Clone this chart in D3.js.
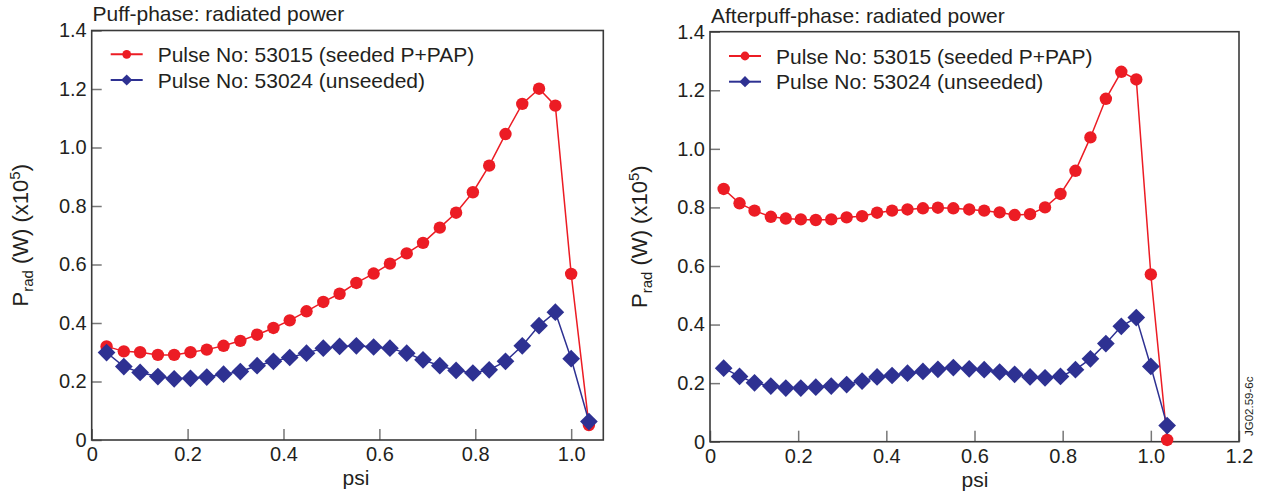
<!DOCTYPE html>
<html>
<head>
<meta charset="utf-8">
<script src="https://cdn.jsdelivr.net/npm/d3@7"></script>
<style>
  body { margin: 0; background: #fff; }
  svg { font-family: "Liberation Sans", Arial, Helvetica, sans-serif; }
</style>
</head>
<body>
<script>

// psi grid (same for both panels)
var psi = [0.031, 0.067, 0.101, 0.138, 0.172, 0.206, 0.240, 0.275, 0.310, 0.345,
           0.379, 0.413, 0.448, 0.483, 0.517, 0.552, 0.588, 0.622, 0.657, 0.691,
           0.726, 0.760, 0.795, 0.829, 0.863, 0.898, 0.933, 0.967, 1.000, 1.037];

// puff phase, Prad (x1e5 W)
var puffSeeded = [0.320, 0.303, 0.300, 0.291, 0.291, 0.300, 0.309, 0.322, 0.339, 0.360,
                  0.383, 0.409, 0.440, 0.472, 0.500, 0.537, 0.569, 0.603, 0.638, 0.674,
                  0.726, 0.777, 0.847, 0.938, 1.046, 1.149, 1.201, 1.143, 0.568, 0.051];
var puffUnseeded = [0.299, 0.251, 0.231, 0.217, 0.209, 0.211, 0.215, 0.225, 0.234, 0.254,
                    0.269, 0.282, 0.297, 0.314, 0.320, 0.322, 0.318, 0.314, 0.297, 0.274,
                    0.254, 0.238, 0.229, 0.240, 0.269, 0.322, 0.391, 0.437, 0.278, 0.063];

// afterpuff phase
var afterSeeded = [0.863, 0.814, 0.789, 0.768, 0.762, 0.759, 0.757, 0.759, 0.766, 0.770,
                   0.782, 0.789, 0.793, 0.797, 0.799, 0.797, 0.793, 0.789, 0.783, 0.774,
                   0.777, 0.800, 0.846, 0.925, 1.039, 1.171, 1.263, 1.237, 0.571, 0.006];
var afterUnseeded = [0.251, 0.223, 0.201, 0.190, 0.183, 0.183, 0.186, 0.190, 0.195, 0.207,
                     0.221, 0.226, 0.234, 0.240, 0.247, 0.253, 0.249, 0.246, 0.238, 0.230,
                     0.221, 0.218, 0.223, 0.246, 0.283, 0.335, 0.394, 0.424, 0.257, 0.055];

var titles = ['Puff-phase: radiated power', 'Afterpuff-phase: radiated power'];
var seriesNames = ['Pulse No: 53015 (seeded P+PAP)', 'Pulse No: 53024 (unseeded)'];
var yTicks = [0, 0.2, 0.4, 0.6, 0.8, 1.0, 1.2, 1.4];
var xTicksLeft = [0, 0.2, 0.4, 0.6, 0.8, 1.0];
var xTicksRight = [0, 0.2, 0.4, 0.6, 0.8, 1.0, 1.2];

// colors
var red = '#ec1c24';
var blue = '#2e3192';
var ink = '#231f20';

var svg = d3.select('body').append('svg')
            .attr('width', 1265)
            .attr('height', 495);

var fmt = function(d) { return d === 0 ? '0' : d3.format('.1f')(d); };

function drawPanel(p) {
  var xScale = d3.scaleLinear().domain([0, p.xMax]).range([p.left, p.right]);
  var yScale = d3.scaleLinear().domain([0, 1.4]).range([p.bottom, p.top]);
  var g = svg.append('g');

  // axes, ticks pointing inwards
  var xAxis = g.append('g')
      .attr('transform', 'translate(0,' + p.bottom + ')')
      .call(d3.axisBottom(xScale).tickValues(p.xTicks).tickFormat(fmt)
              .tickSizeInner(-11).tickSizeOuter(0).tickPadding(7));
  var yAxis = g.append('g')
      .attr('transform', 'translate(' + p.left + ',0)')
      .call(d3.axisLeft(yScale).tickValues(yTicks).tickFormat(fmt)
              .tickSizeInner(-10).tickSizeOuter(0).tickPadding(5));
  [xAxis, yAxis].forEach(function(a) {
    a.select('.domain').remove();
    a.selectAll('line').attr('stroke', '#777').attr('stroke-width', 1.5);
    a.selectAll('text').attr('fill', ink).style('font-size', '20px');
  });

  // frame
  g.append('rect')
   .attr('x', p.left).attr('y', p.top)
   .attr('width', p.right - p.left).attr('height', p.bottom - p.top)
   .attr('fill', 'none').attr('stroke', '#3a3a3a').attr('stroke-width', 1.6);

  var line = d3.line()
      .x(function(d, i) { return xScale(psi[i]); })
      .y(function(d) { return yScale(d); });

  // seeded (red circles)
  g.append('path').datum(p.seeded)
   .attr('d', line).attr('fill', 'none').attr('stroke', red).attr('stroke-width', 1.5);
  g.selectAll('.dot').data(p.seeded).enter().append('circle')
   .attr('class', 'dot')
   .attr('cx', function(d, i) { return xScale(psi[i]); })
   .attr('cy', function(d) { return yScale(d); })
   .attr('r', 6.2).attr('fill', red);

  // unseeded (blue diamonds)
  g.append('path').datum(p.unseeded)
   .attr('d', line).attr('fill', 'none').attr('stroke', blue).attr('stroke-width', 1.5);
  var diamond = d3.symbol().type(d3.symbolDiamond2).size(200);
  g.selectAll('.dia').data(p.unseeded).enter().append('path')
   .attr('class', 'dia')
   .attr('d', diamond)
   .attr('transform', function(d, i) {
     return 'translate(' + xScale(psi[i]) + ',' + yScale(d) + ')';
   })
   .attr('fill', blue);

  // title
  g.append('text')
   .attr('x', p.titleX).attr('y', p.titleY)
   .attr('fill', ink).style('font-size', '21px')
   .text(p.title);

  // legend
  var legendColors = [red, blue];
  seriesNames.forEach(function(name, i) {
    var ly = p.legendY[i];
    g.append('line')
     .attr('x1', p.legendX - 16).attr('x2', p.legendX + 16)
     .attr('y1', ly).attr('y2', ly)
     .attr('stroke', legendColors[i]).attr('stroke-width', 2);
    if (i === 0) {
      g.append('circle').attr('cx', p.legendX).attr('cy', ly).attr('r', 4.4).attr('fill', red);
    } else {
      g.append('path')
       .attr('d', d3.symbol().type(d3.symbolDiamond2).size(80))
       .attr('transform', 'translate(' + p.legendX + ',' + ly + ')')
       .attr('fill', blue);
    }
    g.append('text')
     .attr('x', p.legendX + 31).attr('y', ly + 7.5)
     .attr('fill', ink).style('font-size', '21px')
     .text(name);
  });

  // axis labels
  g.append('text')
   .attr('x', p.psiX).attr('y', p.bottom + 45)
   .attr('text-anchor', 'middle')
   .attr('fill', ink).style('font-size', '21px')
   .text('psi');

  var yl = g.append('text')
   .attr('transform', 'translate(' + p.ylabelX + ',' + ((p.top + p.bottom) / 2) + ')rotate(-90)')
   .attr('text-anchor', 'middle')
   .attr('fill', ink).style('font-size', '22px');
  yl.append('tspan').text('P');
  yl.append('tspan').attr('dy', 5).style('font-size', '15px').text('rad');
  yl.append('tspan').attr('dy', -5).text(' (W) (x10');
  yl.append('tspan').attr('dy', -8).style('font-size', '15px').text('5');
  yl.append('tspan').attr('dy', 8).text(')');
}

drawPanel({
  left: 91.7, right: 603.3, top: 30.5, bottom: 440, xMax: 1.067, xTicks: xTicksLeft,
  seeded: puffSeeded, unseeded: puffUnseeded, title: titles[0],
  titleX: 92.5, titleY: 21, legendX: 126.7, legendY: [54.3, 80],
  psiX: 356, ylabelX: 28
});

drawPanel({
  left: 710, right: 1239, top: 31.7, bottom: 441.7, xMax: 1.2, xTicks: xTicksRight,
  seeded: afterSeeded, unseeded: afterUnseeded, title: titles[1],
  titleX: 711, titleY: 23, legendX: 745, legendY: [56, 81.7],
  psiX: 975, ylabelX: 647
});

// figure id
svg.append('text')
   .attr('transform', 'translate(1253,436)rotate(-90)')
   .attr('fill', ink).style('font-size', '11.5px')
   .text('JG02.59-6c');

</script>
</body>
</html>
